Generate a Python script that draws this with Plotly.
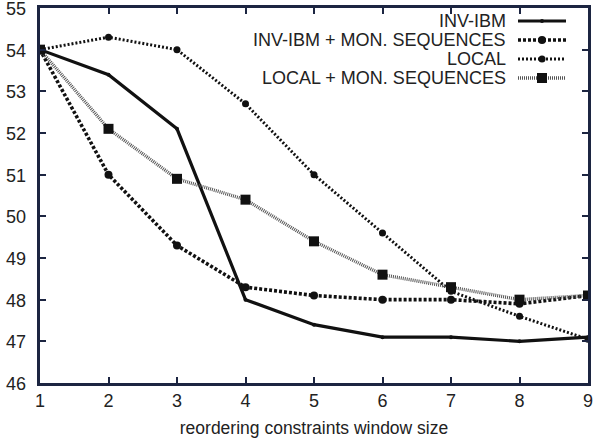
import plotly.graph_objects as go

window_size = [1, 2, 3, 4, 5, 6, 7, 8, 9]
inv_ibm = [54.0, 53.4, 52.1, 48.0, 47.4, 47.1, 47.1, 47.0, 47.1]
inv_ibm_mon = [54.0, 51.0, 49.3, 48.3, 48.1, 48.0, 48.0, 47.9, 48.1]
local = [54.0, 54.3, 54.0, 52.7, 51.0, 49.6, 48.2, 47.6, 47.05]
local_mon = [54.0, 52.1, 50.9, 50.4, 49.4, 48.6, 48.3, 48.0, 48.1]
series_names = ["INV-IBM", "INV-IBM + MON. SEQUENCES", "LOCAL", "LOCAL + MON. SEQUENCES"]
y_ticks = [46, 47, 48, 49, 50, 51, 52, 53, 54, 55]

FONT = "Liberation Sans, Arial, sans-serif"
INK = "#222"
FRAME = "#1c2541"
W, H = 594, 438
ML, MR, MT, MB = 40, 6, 8, 55
styles = [
    dict(line=dict(color="#111", width=3.2), marker=dict(symbol="circle", size=4, color="#111")),
    dict(line=dict(color="#111", width=3.6, dash="3px,2px"), marker=dict(symbol="circle", size=8, color="#111")),
    dict(line=dict(color="#111", width=3.0, dash="2px,2px"), marker=dict(symbol="circle", size=7, color="#111")),
    dict(line=dict(color="#555", width=3.4, dash="1px,1px"), marker=dict(symbol="square", size=10, color="#111")),
]
data = [inv_ibm, inv_ibm_mon, local, local_mon]

fig = go.Figure()
for name, ys, st in zip(series_names, data, styles):
    fig.add_trace(go.Scatter(x=window_size, y=ys, mode="lines+markers", name=name,
                             line=st["line"], marker=st["marker"], showlegend=False))

def px_x(p):
    return (p - ML) / (W - ML - MR)

def px_y(p):
    return (H - MB - p) / (H - MT - MB)

# y tick labels as text placed through the y scale
for v in y_ticks:
    fig.add_annotation(x=-12 / (W - ML - MR), y=v, xref="paper", yref="y", text=str(v),
                       showarrow=False, xanchor="right", yanchor="middle", yshift=-1,
                       font=dict(family=FONT, size=18, color=INK))

# custom legend: text right-aligned on the left, line sample on the right
legend_rows = [21, 40, 59, 78]
for name, row, st in zip(series_names, legend_rows, styles):
    fig.add_shape(type="line", xref="paper", yref="paper",
                  x0=px_x(518), x1=px_x(566), y0=px_y(row), y1=px_y(row),
                  line=dict(color=st["line"]["color"], width=st["line"]["width"],
                            dash=st["line"].get("dash", "solid")))
    s = st["marker"]["size"] / 2
    fig.add_shape(type="rect" if st["marker"]["symbol"] == "square" else "circle",
                  xref="paper", yref="paper", xsizemode="pixel", ysizemode="pixel",
                  xanchor=px_x(542), yanchor=px_y(row), x0=-s, x1=s, y0=-s, y1=s,
                  fillcolor="#111", line=dict(width=0))
    fig.add_annotation(x=px_x(508), y=px_y(row), xref="paper", yref="paper", text=name,
                       showarrow=False, xanchor="right", yanchor="middle",
                       font=dict(family=FONT, size=18, color=INK))

axis_frame = dict(showgrid=False, zeroline=False, showline=True, linecolor=FRAME, linewidth=2.5,
                  mirror="ticks", ticks="inside", ticklen=6, tickwidth=2, tickcolor=FRAME,
                  automargin=False)
fig.update_layout(
    width=W, height=H,
    margin=dict(l=ML, r=MR, t=MT, b=MB),
    paper_bgcolor="white", plot_bgcolor="white",
    xaxis=dict(range=[1, 9], tickvals=window_size,
               tickfont=dict(family=FONT, size=18, color=INK),
               title=dict(text="reordering constraints window size",
                          font=dict(family=FONT, size=17.5, color=INK), standoff=16),
               **axis_frame),
    yaxis=dict(range=[46, 55], tickvals=y_ticks, showticklabels=False, **axis_frame),
)
fig.write_html("out.html", post_script="document.body.style.margin='0';",
               config={"displayModeBar": False})
